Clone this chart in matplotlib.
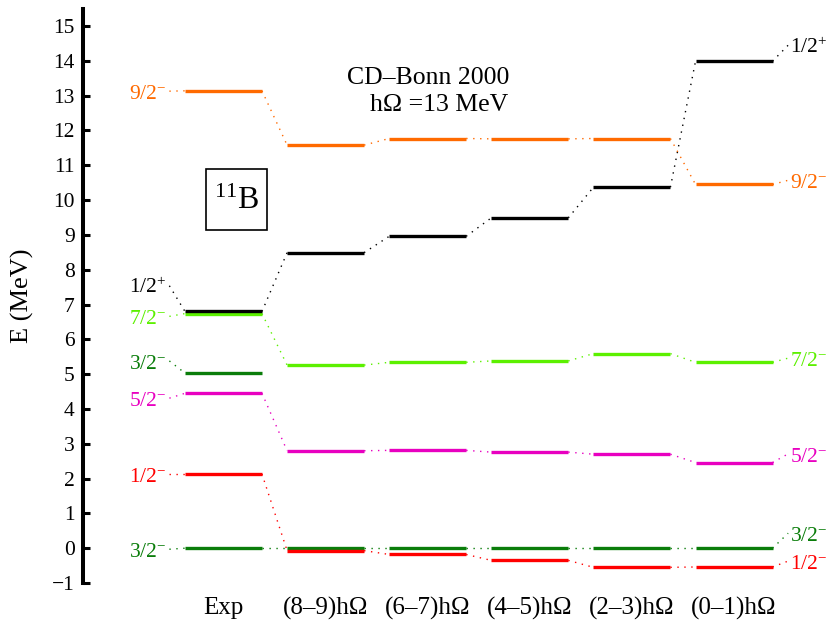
import matplotlib
matplotlib.use("Agg")
import matplotlib.pyplot as plt
from matplotlib.patches import Rectangle

### Level scheme of 11B: experiment vs NCSM calculations (CD-Bonn 2000)

plt.rcParams['font.family'] = ['Liberation Serif', 'DejaVu Serif']
plt.rcParams['mathtext.fontset'] = 'custom'
plt.rcParams['mathtext.rm'] = 'Liberation Serif'
plt.rcParams['mathtext.it'] = 'Liberation Serif:italic'

columns = ['Exp', '(8–9)hΩ', '(6–7)hΩ', '(4–5)hΩ', '(2–3)hΩ', '(0–1)hΩ']

# energies (MeV) of each state in every column
e_32gs = [0.0, 0.0, 0.0, 0.0, 0.0, 0.0]
e_12m = [2.13, -0.07, -0.18, -0.35, -0.55, -0.54]
e_52m = [4.45, 2.80, 2.81, 2.76, 2.70, 2.46]
e_72m = [6.74, 5.26, 5.34, 5.38, 5.59, 5.34]
e_12p = [6.80, 8.49, 8.96, 9.49, 10.37, 13.99]
e_92m = [13.14, 11.58, 11.77, 11.76, 11.77, 10.45]
e_32b = [5.03]  # second 3/2- only known from experiment

# state name, energies, colour, left label y, right label y (None = no label)
states = [
    ('$3/2^{-}$', e_32gs, '#0a7d0a', -0.03, 0.43),
    ('$1/2^{-}$', e_12m, '#ff0000', 2.13, -0.37),
    ('$5/2^{-}$', e_52m, '#e800c0', 4.31, 2.71),
    ('$3/2^{-}$', e_32b, '#0a7d0a', 5.38, None),
    ('$7/2^{-}$', e_72m, '#5cf000', 6.66, 5.46),
    ('$1/2^{+}$', e_12p, '#000000', 7.54, 14.45),
    ('$9/2^{-}$', e_92m, '#ff6a00', 13.13, 10.57),
]

hw = 0.377        # half width of a level bar
bar_lw = 2.4
dot = (0, (1, 4))
lab_fs = 15.5

fig = plt.figure(figsize=(8.29, 6.22), dpi=100)
ax = fig.add_axes([0.1001, 0.0627, 0.8649, 0.9228])

for name, en, col, yl, yr in states:
    for i, e in enumerate(en):
        ax.plot([i - hw, i + hw], [e, e], color=col, lw=bar_lw, solid_capstyle='butt', zorder=3)
        if i > 0:
            ax.plot([i - 1 + hw, i - hw], [en[i - 1], e], color=col, lw=1, ls=dot, zorder=2)
    # label on the left, leader to the Exp level
    ax.plot([-0.53, -hw], [yl, en[0]], color=col, lw=1, ls=dot, zorder=2)
    ax.annotate(name, (-0.56, yl), xytext=(0, -5.5), textcoords='offset points',
                ha='right', va='baseline', color=col, fontsize=lab_fs)
    if yr is not None:
        n = len(en) - 1
        ax.plot([n + hw, 5.53], [en[-1], yr], color=col, lw=1, ls=dot, zorder=2)
        ax.annotate(name, (5.55, yr), xytext=(0, -5.5), textcoords='offset points',
                    ha='left', va='baseline', color=col, fontsize=lab_fs)

# nucleus box
ax.add_patch(Rectangle((-0.17, 9.15), 0.597, 1.756, fill=False, lw=1.2, ec='black'))
ax.text(0.127, 9.95, '$^{11}$B', ha='center', va='center', fontsize=23)

ax.text(2.0, 13.5, 'CD–Bonn 2000', ha='center', va='center', fontsize=18.5)
ax.text(1.435, 12.73, 'hΩ =13 MeV', ha='left', va='center', fontsize=18.5)

ax.set_xlim(-1.376, 5.646)
ax.set_ylim(-1, 15.49)
ax.set_yticks(range(-1, 16))
ax.set_xticks(range(len(columns)))
ax.set_xticklabels(columns, fontsize=18)
ax.set_ylabel('E (MeV)', fontsize=19, labelpad=13)

for s in ['top', 'right', 'bottom']:
    ax.spines[s].set_visible(False)
ax.spines['left'].set_linewidth(2.9)
ax.tick_params(axis='y', direction='in', length=5, width=2.2, labelsize=15.5, pad=6)
ax.tick_params(axis='x', length=0, pad=10)

fig.savefig('out.png', dpi=100)
